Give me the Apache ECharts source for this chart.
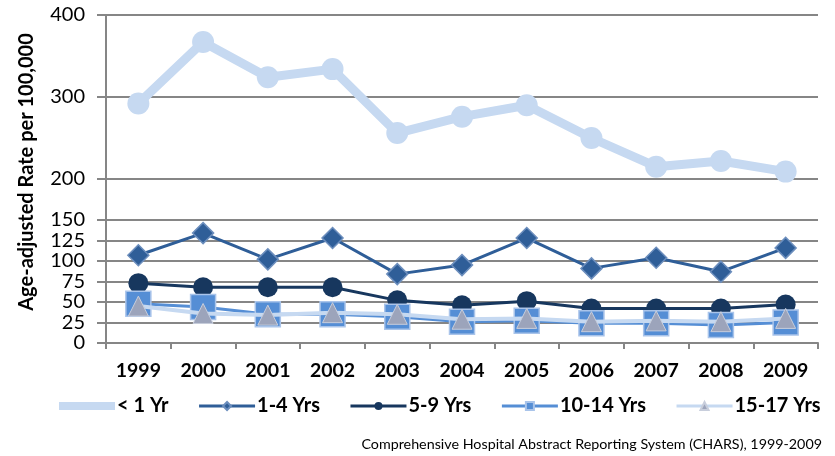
<!DOCTYPE html>
<html>
<head>
<meta charset="utf-8">
<script src="https://cdn.jsdelivr.net/npm/echarts@6/dist/echarts.min.js"></script>
<style>html,body{margin:0;padding:0;background:#fff}#c{width:835px;height:456px}</style>
</head>
<body>
<div id="c"></div>
<script>
var years = ['1999','2000','2001','2002','2003','2004','2005','2006','2007','2008','2009'];
var under1 = [292, 367, 324, 334, 256, 276, 290, 250, 215, 222, 209];
var y1to4 = [107, 134, 102, 128, 84, 95, 128, 91, 104, 87, 116];
var y5to9 = [73, 68, 68, 68, 52, 46, 51, 42, 42, 42, 47];
var y10to14 = [48, 44, 35, 35, 32, 26, 27, 24, 24, 22, 25];
var y15to17 = [45, 36, 34, 37, 35, 29, 30, 26, 27, 26, 30];
var yTicks = [0, 25, 50, 75, 100, 125, 150, 200, 300, 400];
var seriesNames = ['< 1 Yr', '1-4 Yrs', '5-9 Yrs', '10-14 Yrs', '15-17 Yrs'];
var yTitle = 'Age-adjusted Rate per 100,000';
var sourceText = 'Comprehensive Hospital Abstract Reporting System (CHARS), 1999-2009';

var FONT = 'Lato';
var chart = echarts.init(document.getElementById('c'), null, {renderer: 'canvas'});
chart.setOption({
  animation: false,
  backgroundColor: '#ffffff',
  grid: {left: 106, right: 17, top: 15, bottom: 113, containLabel: false},
  legend: {
    left: 50, top: 391,
    itemWidth: 56, itemHeight: 10, itemGap: 29,
    textStyle: {fontFamily: FONT, fontWeight: 'bold', fontSize: 20, color: '#000', padding: [0,0,0,-3]},
    data: [
      {name: seriesNames[0], lineStyle: {width: 8}},
      {name: seriesNames[1], lineStyle: {width: 3}},
      {name: seriesNames[2], lineStyle: {width: 3}},
      {name: seriesNames[3], lineStyle: {width: 3}},
      {name: seriesNames[4], lineStyle: {width: 3}}
    ]
  },
  xAxis: {
    type: 'category', data: years, boundaryGap: true,
    axisLine: {lineStyle: {color: '#868686', width: 2}},
    axisTick: {show: true, length: 6, lineStyle: {color: '#868686', width: 2}},
    axisLabel: {fontFamily: FONT, fontWeight: 'bold', fontSize: 19.5, color: '#000', margin: 18}
  },
  yAxis: {
    type: 'value', min: 0, max: 400, interval: 100,
    axisLine: {show: true, lineStyle: {color: '#868686', width: 2}},
    axisTick: {show: true, inside: false, length: 9, customValues: yTicks, lineStyle: {color: '#868686', width: 2}},
    axisLabel: {fontFamily: FONT, fontSize: 20, color: '#000', margin: 21, customValues: yTicks},
    splitLine: {show: true, lineStyle: {color: '#868686', width: 2}}
  },
  series: [
    {name: seriesNames[0], type: 'line', data: under1, z: 2,
     symbol: 'circle', symbolSize: 22,
     lineStyle: {color: '#C6D9F1', width: 9},
     itemStyle: {color: '#C6D9F1'}},
    {name: seriesNames[1], type: 'line', data: y1to4, z: 3,
     symbol: 'diamond', symbolSize: 21,
     lineStyle: {color: '#2F5E98', width: 3},
     itemStyle: {color: '#2F5E98', borderColor: '#6C8EBD', borderWidth: 1.5}},
    {name: seriesNames[2], type: 'line', data: y5to9, z: 4,
     symbol: 'circle', symbolSize: 20,
     lineStyle: {color: '#17375E', width: 3},
     itemStyle: {color: '#17375E'}},
    {name: seriesNames[3], type: 'line', data: y10to14, z: 5,
     symbol: 'rect', symbolSize: 25,
     lineStyle: {color: '#558ED5', width: 3},
     itemStyle: {color: '#558ED5', borderColor: '#A9C4EA', borderWidth: 1.5}},
    {name: seriesNames[4], type: 'line', data: y15to17, z: 6,
     symbol: 'triangle', symbolSize: [20, 20],
     lineStyle: {color: '#C6D9F1', width: 4},
     itemStyle: {color: '#9CA4BB', borderColor: '#C8CEDC', borderWidth: 1}}
  ],
  graphic: [{
    type: 'text', x: 27, y: 172, rotation: Math.PI / 2,
    style: {text: yTitle, font: 'bold 20px ' + FONT, fill: '#000', align: 'center', verticalAlign: 'middle'}
  }, {
    type: 'text', right: 13, top: 437,
    style: {text: sourceText, font: '14.3px ' + FONT, fill: '#000'}
  }]
});
</script>
</body>
</html>
